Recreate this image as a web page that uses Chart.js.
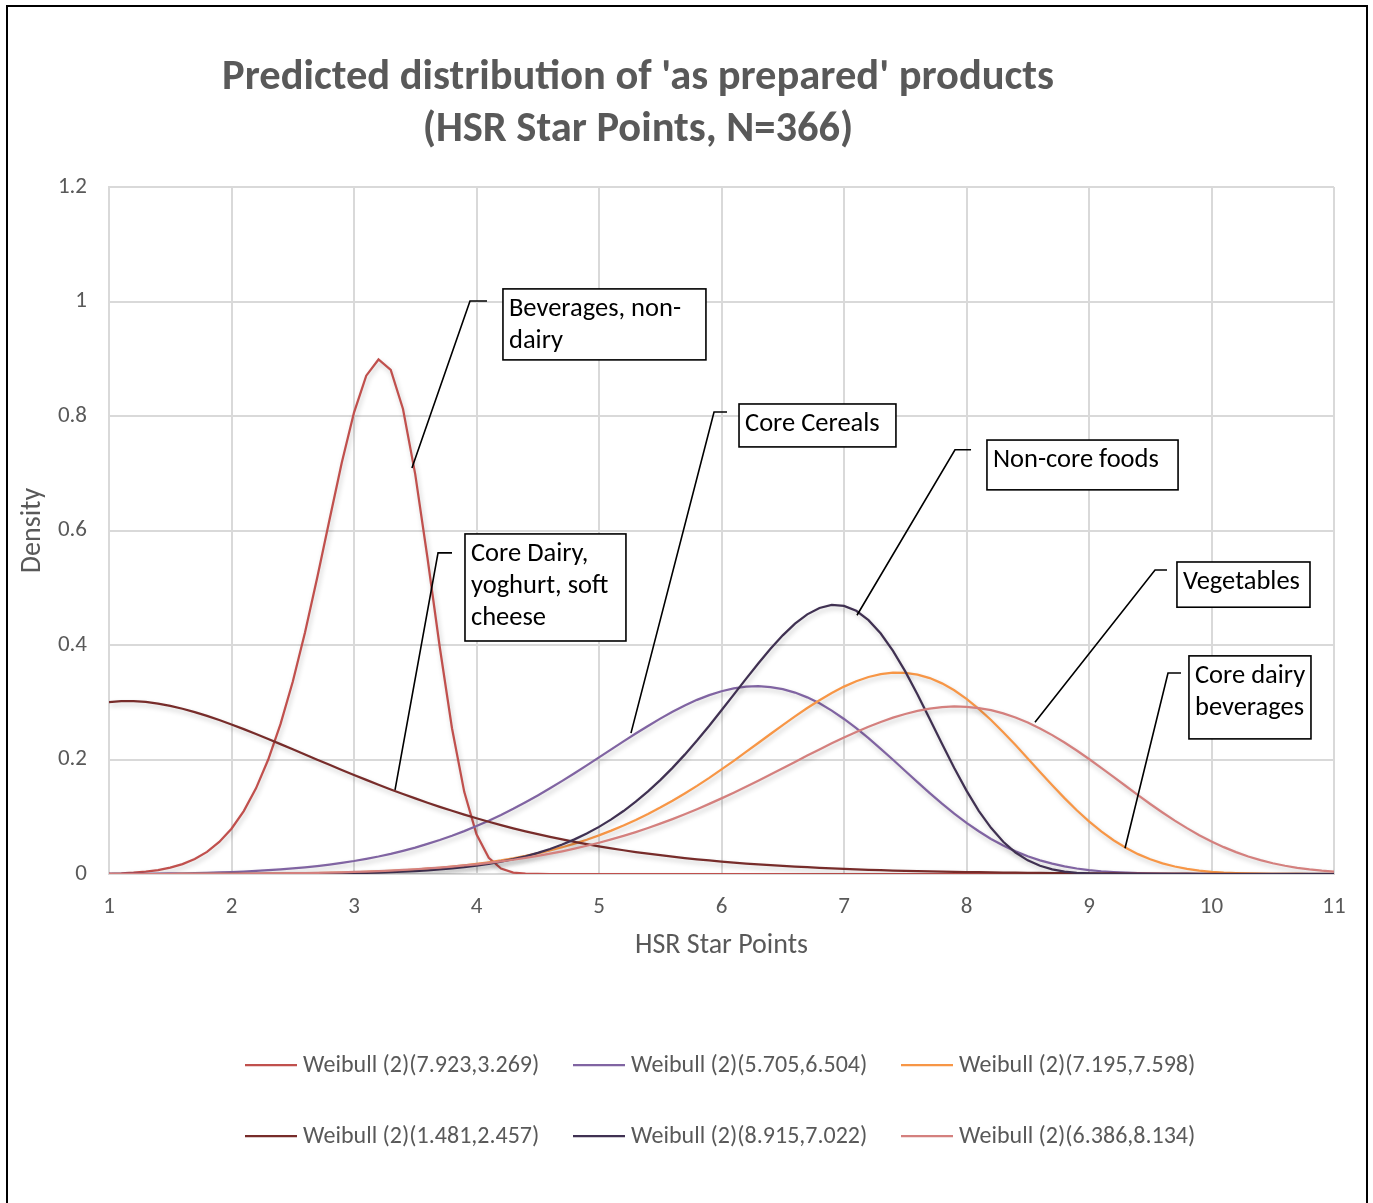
<!DOCTYPE html>
<html>
<head>
<meta charset="utf-8">
<script src="https://cdn.jsdelivr.net/npm/chart.js@4.4.1/dist/chart.umd.min.js"></script>
<style>
  html, body { margin: 0; padding: 0; background: #ffffff; }
  #wrap { position: relative; width: 1373px; height: 1203px; }
  canvas { display: block; }
</style>
</head>
<body>
<div id="wrap"><canvas id="c" width="1373" height="1203"></canvas></div>
<script>
// ---------------- DATA ----------------
const titleLines = ["Predicted distribution of 'as prepared' products", "(HSR Star Points, N=366)"];
const xTitle = "HSR Star Points";
const yTitle = "Density";

const xs = [
  1.0,1.1,1.2,1.3,1.4,1.5,1.6,1.7,1.8,1.9,
  2.0,2.1,2.2,2.3,2.4,2.5,2.6,2.7,2.8,2.9,
  3.0,3.1,3.2,3.3,3.4,3.5,3.6,3.7,3.8,3.9,
  4.0,4.1,4.2,4.3,4.4,4.5,4.6,4.7,4.8,4.9,
  5.0,5.1,5.2,5.3,5.4,5.5,5.6,5.7,5.8,5.9,
  6.0,6.1,6.2,6.3,6.4,6.5,6.6,6.7,6.8,6.9,
  7.0,7.1,7.2,7.3,7.4,7.5,7.6,7.7,7.8,7.9,
  8.0,8.1,8.2,8.3,8.4,8.5,8.6,8.7,8.8,8.9,
  9.0,9.1,9.2,9.3,9.4,9.5,9.6,9.7,9.8,9.9,
  10.0,10.1,10.2,10.3,10.4,10.5,10.6,10.7,10.8,10.9,
  11.0
];

const seriesNames = [
  "Weibull (2)(7.923,3.269)",
  "Weibull (2)(5.705,6.504)",
  "Weibull (2)(7.195,7.598)",
  "Weibull (2)(1.481,2.457)",
  "Weibull (2)(8.915,7.022)",
  "Weibull (2)(6.386,8.134)"
];

// Beverages, non-dairy
const bevNonDairy = [
  0.0007,0.0013,0.0024,0.0041,0.0068,0.0110,0.0172,0.0261,0.0386,0.0559,
  0.0791,0.1099,0.1496,0.1999,0.2617,0.3359,0.4219,0.5177,0.6188,0.7182,
  0.8060,0.8704,0.8987,0.8807,0.8123,0.6980,0.5520,0.3965,0.2546,0.1435,
  0.0695,0.0283,0.0095,0.0025,0.0005,0.0001,0,0,0,0,
  0,0,0,0,0,0,0,0,0,0,
  0,0,0,0,0,0,0,0,0,0,
  0,0,0,0,0,0,0,0,0,0,
  0,0,0,0,0,0,0,0,0,0,
  0,0,0,0,0,0,0,0,0,0,
  0,0,0,0,0,0,0,0,0,0,
  0
];

// Core Cereals
const coreCereals = [
  0.0001,0.0002,0.0003,0.0004,0.0006,0.0009,0.0012,0.0016,0.0021,0.0027,
  0.0034,0.0043,0.0053,0.0066,0.0080,0.0097,0.0117,0.0139,0.0165,0.0194,
  0.0227,0.0265,0.0306,0.0353,0.0405,0.0462,0.0525,0.0593,0.0668,0.0749,
  0.0837,0.0931,0.1032,0.1139,0.1253,0.1372,0.1497,0.1626,0.1760,0.1897,
  0.2037,0.2176,0.2316,0.2453,0.2586,0.2714,0.2834,0.2944,0.3042,0.3125,
  0.3192,0.3242,0.3272,0.3280,0.3266,0.3228,0.3169,0.3086,0.2981,0.2854,
  0.2708,0.2547,0.2372,0.2187,0.1995,0.1799,0.1604,0.1413,0.1229,0.1056,
  0.0894,0.0746,0.0613,0.0496,0.0395,0.0309,0.0238,0.0180,0.0133,0.0096,
  0.0069,0.0048,0.0033,0.0022,0.0014,0.0009,0.0005,0.0003,0.0002,0.0001,
  0.0001,0,0,0,0,0,0,0,0,0,
  0
];

// Core dairy beverages
const coreDairyBev = [
  0,0,0,0,0,0,0.0001,0.0001,0.0001,0.0002,
  0.0002,0.0003,0.0004,0.0006,0.0008,0.0010,0.0012,0.0016,0.0020,0.0024,
  0.0030,0.0037,0.0045,0.0054,0.0065,0.0077,0.0092,0.0109,0.0129,0.0151,
  0.0176,0.0205,0.0237,0.0274,0.0315,0.0361,0.0412,0.0468,0.0531,0.0599,
  0.0675,0.0757,0.0847,0.0943,0.1048,0.1160,0.1280,0.1407,0.1540,0.1680,
  0.1827,0.1977,0.2132,0.2288,0.2445,0.2601,0.2753,0.2899,0.3036,0.3162,
  0.3273,0.3367,0.3441,0.3492,0.3517,0.3514,0.3483,0.3422,0.3330,0.3209,
  0.3060,0.2885,0.2691,0.2477,0.2252,0.2017,0.1782,0.1549,0.1325,0.1113,
  0.0919,0.0744,0.0590,0.0458,0.0347,0.0257,0.0186,0.0131,0.0089,0.0059,
  0.0038,0.0024,0.0015,0.0009,0.0005,0.0003,0.0002,0.0001,0,0,
  0
];

// Core Dairy, yoghurt, soft cheese
const coreDairyYoghurt = [
  0.3004,0.3021,0.3021,0.3006,0.2977,0.2937,0.2887,0.2828,0.2762,0.2689,
  0.2612,0.2530,0.2445,0.2358,0.2269,0.2179,0.2088,0.1997,0.1907,0.1818,
  0.1730,0.1644,0.1560,0.1477,0.1398,0.1320,0.1245,0.1173,0.1104,0.1037,
  0.0973,0.0912,0.0854,0.0798,0.0746,0.0696,0.0648,0.0604,0.0561,0.0521,
  0.0484,0.0449,0.0415,0.0384,0.0355,0.0328,0.0303,0.0279,0.0257,0.0236,
  0.0217,0.0200,0.0183,0.0168,0.0154,0.0141,0.0129,0.0118,0.0108,0.0098,
  0.0089,0.0082,0.0074,0.0067,0.0061,0.0056,0.0051,0.0046,0.0042,0.0038,
  0.0034,0.0031,0.0028,0.0025,0.0022,0.0020,0.0018,0.0016,0.0014,0.0013,
  0.0011,0.0010,0.0009,0.0008,0.0007,0.0006,0.0006,0.0005,0.0005,0.0004,
  0.0004,0.0003,0.0003,0.0003,0.0002,0.0002,0.0002,0.0002,0.0001,0.0001,
  0.0001
];

// Non-core foods
const nonCoreFoods = [
  0,0,0,0,0,0,0,0,0,0,
  0.0001,0.0001,0.0001,0.0002,0.0003,0.0004,0.0005,0.0007,0.0009,0.0012,
  0.0015,0.0020,0.0025,0.0032,0.0041,0.0051,0.0064,0.0079,0.0098,0.0120,
  0.0147,0.0178,0.0215,0.0259,0.0309,0.0368,0.0436,0.0515,0.0605,0.0707,
  0.0823,0.0954,0.1100,0.1263,0.1443,0.1640,0.1854,0.2085,0.2331,0.2589,
  0.2859,0.3133,0.3409,0.3678,0.3934,0.4169,0.4372,0.4535,0.4646,0.4699,
  0.4684,0.4597,0.4434,0.4200,0.3897,0.3539,0.3137,0.2707,0.2274,0.1850,
  0.1456,0.1104,0.0806,0.0562,0.0375,0.0238,0.0143,0.0081,0.0043,0.0021,
  0.0010,0.0004,0.0002,0.0001,0,0,0,0,0,0,
  0,0,0,0,0,0,0,0,0,0,
  0
];

// Vegetables
const vegetables = [
  0,0,0,0,0,0.0001,0.0001,0.0001,0.0002,0.0003,
  0.0004,0.0005,0.0007,0.0009,0.0011,0.0014,0.0017,0.0021,0.0025,0.0030,
  0.0036,0.0043,0.0052,0.0061,0.0071,0.0083,0.0097,0.0112,0.0129,0.0149,
  0.0170,0.0194,0.0220,0.0249,0.0281,0.0316,0.0355,0.0397,0.0443,0.0493,
  0.0546,0.0604,0.0666,0.0732,0.0803,0.0879,0.0959,0.1043,0.1132,0.1225,
  0.1321,0.1421,0.1524,0.1630,0.1738,0.1848,0.1958,0.2068,0.2176,0.2282,
  0.2384,0.2481,0.2572,0.2656,0.2731,0.2795,0.2848,0.2889,0.2915,0.2926,
  0.2921,0.2899,0.2861,0.2806,0.2734,0.2646,0.2543,0.2426,0.2297,0.2157,
  0.2009,0.1854,0.1696,0.1537,0.1378,0.1223,0.1075,0.0933,0.0801,0.0678,
  0.0568,0.0469,0.0382,0.0306,0.0242,0.0188,0.0144,0.0108,0.0080,0.0058,
  0.0042
];

const seriesValues = [bevNonDairy, coreCereals, coreDairyBev, coreDairyYoghurt, nonCoreFoods, vegetables];
const seriesColors = ["#C0504D", "#8064A2", "#F79646", "#772C2A", "#403152", "#D4807E"];

// Callout labels: text lines, anchor on curve, elbow, end of short tick, box (data units)
const calloutTexts = [
  ["Beverages, non-", "dairy"],
  ["Core Cereals"],
  ["Non-core foods"],
  ["Core Dairy,", "yoghurt, soft", "cheese"],
  ["Vegetables"],
  ["Core dairy", "beverages"]
];
const calloutGeom = [
  { p:[3.473,0.709], e:[3.947,1.001], t:4.086, box:[4.216,1.022,5.873,0.898] },
  { p:[5.261,0.246], e:[5.939,0.807], t:6.045, box:[6.143,0.821,7.424,0.746] },
  { p:[7.106,0.452], e:[7.906,0.741], t:8.037, box:[8.167,0.758,9.727,0.671] },
  { p:[3.335,0.147], e:[3.686,0.561], t:3.800, box:[3.906,0.594,5.220,0.407] },
  { p:[8.559,0.265], e:[9.539,0.531], t:9.637, box:[9.718,0.545,10.804,0.466] },
  { p:[9.294,0.045], e:[9.645,0.351], t:9.751, box:[9.816,0.381,10.812,0.236] }
];

// ---------------- CHART ----------------
const FONT = "Carlito, Calibri, Lato, 'Open Sans', sans-serif";
const GREY = "#595959";

const datasets = seriesValues.map((vals, i) => ({
  label: seriesNames[i],
  data: xs.map((x, j) => ({ x: x, y: vals[j] })),
  borderColor: seriesColors[i],
  backgroundColor: seriesColors[i],
  borderWidth: 2.25,
  pointRadius: 0,
  pointHoverRadius: 0,
  fill: false,
  tension: 0,
  order: seriesValues.length - i
}));

const shadowPlugin = {
  id: 'shadow',
  beforeDatasetDraw(chart) {
    const ctx = chart.ctx;
    ctx.save();
    ctx.shadowColor = 'rgba(0,0,0,0.22)';
    ctx.shadowBlur = 5;
    ctx.shadowOffsetX = 1.5;
    ctx.shadowOffsetY = 3;
  },
  afterDatasetDraw(chart) {
    chart.ctx.restore();
  }
};

const decorPlugin = {
  id: 'decor',
  afterDraw(chart) {
    const ctx = chart.ctx;
    const xs_ = chart.scales.x, ys_ = chart.scales.y;
    const X = v => xs_.getPixelForValue(v);
    const Y = v => ys_.getPixelForValue(v);
    ctx.save();

    // Title
    ctx.fillStyle = GREY;
    ctx.textAlign = 'center';
    ctx.textBaseline = 'middle';
    ctx.font = "bold 42.5px " + FONT;
    ctx.fillText(titleLines[0], 638, 78);
    ctx.fillText(titleLines[1], 638, 130);

    // Callouts
    ctx.strokeStyle = '#000000';
    ctx.lineWidth = 1.6;
    calloutGeom.forEach((g, i) => {
      ctx.beginPath();
      ctx.moveTo(X(g.p[0]), Y(g.p[1]));
      ctx.lineTo(X(g.e[0]), Y(g.e[1]));
      ctx.lineTo(X(g.t), Y(g.e[1]));
      ctx.stroke();
      const bx = X(g.box[0]), by = Y(g.box[1]);
      const bw = X(g.box[2]) - bx, bh = Y(g.box[3]) - by;
      ctx.fillStyle = '#ffffff';
      ctx.fillRect(bx, by, bw, bh);
      ctx.strokeRect(bx, by, bw, bh);
      ctx.fillStyle = '#000000';
      ctx.font = "26.5px " + FONT;
      ctx.textAlign = 'left';
      ctx.textBaseline = 'middle';
      calloutTexts[i].forEach((line, k) => {
        ctx.fillText(line, bx + 6, by + 20 + k * 32);
      });
    });

    // Legend (3 per row)
    ctx.font = "24px " + FONT;
    ctx.textAlign = 'left';
    ctx.textBaseline = 'middle';
    const colX = [245, 573, 901];
    const rowY = [1065, 1136];
    seriesNames.forEach((name, i) => {
      const cx = colX[i % 3], cy = rowY[Math.floor(i / 3)];
      ctx.strokeStyle = seriesColors[i];
      ctx.lineWidth = 2.25;
      ctx.beginPath();
      ctx.moveTo(cx, cy);
      ctx.lineTo(cx + 52, cy);
      ctx.stroke();
      ctx.fillStyle = GREY;
      ctx.fillText(name, cx + 58, cy + 1);
    });

    // Outer frame
    ctx.strokeStyle = '#000000';
    ctx.lineWidth = 2;
    ctx.strokeRect(7, 6, 1360, 1210);
    ctx.restore();
  }
};

new Chart(document.getElementById('c'), {
  type: 'line',
  data: { datasets: datasets },
  options: {
    responsive: false,
    animation: false,
    devicePixelRatio: 1,
    layout: { padding: { left: 10, right: 39, top: 187, bottom: 229 } },
    plugins: {
      legend: { display: false },
      tooltip: { enabled: false },
      title: { display: false }
    },
    scales: {
      x: {
        type: 'linear',
        min: 1, max: 11,
        ticks: { stepSize: 1, color: GREY, font: { family: FONT, size: 23 }, padding: 19, maxRotation: 0 },
        grid: { color: '#D9D9D9', lineWidth: 2, drawTicks: false },
        border: { color: '#D9D9D9', width: 2 },
        title: { display: true, text: xTitle, color: GREY, font: { family: FONT, size: 28 }, padding: { top: 0, bottom: 11 } },
        afterFit(s) { s.height = 100; }
      },
      y: {
        min: 0, max: 1.2,
        ticks: { stepSize: 0.2, color: GREY, font: { family: FONT, size: 23 }, padding: 22,
                 callback: v => String(Math.round(v * 10) / 10) },
        grid: { color: '#D9D9D9', lineWidth: 2, drawTicks: false },
        border: { color: '#D9D9D9', width: 2 },
        title: { display: true, text: yTitle, color: GREY, font: { family: FONT, size: 28 }, padding: { top: 6, bottom: 0 } },
        afterFit(s) { s.width = 99; }
      }
    }
  },
  plugins: [shadowPlugin, decorPlugin]
});
</script>
</body>
</html>
